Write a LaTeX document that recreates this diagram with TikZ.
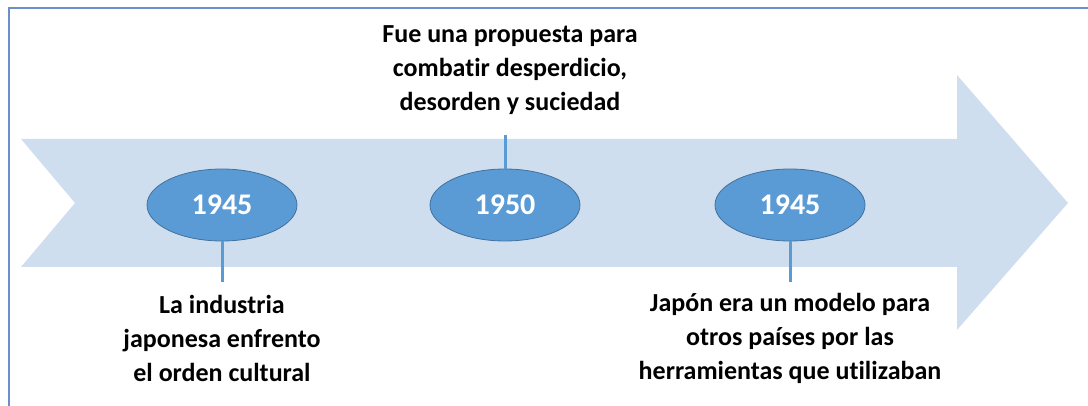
\documentclass[tikz,border=0pt]{standalone}
\usepackage{fontspec}
\setmainfont{Carlito}[Ligatures={NoCommon}]
\usetikzlibrary{shapes.geometric}
\definecolor{arrowfill}{HTML}{CFDEEE}
\definecolor{ellfill}{HTML}{5B9BD5}
\definecolor{elldraw}{HTML}{41719C}
\definecolor{framecol}{HTML}{6A8FCB}
\tikzset{
  yearnode/.style={ellipse, fill=ellfill, draw=elldraw, line width=0.8pt, minimum width=150pt, minimum height=72pt, inner sep=0pt, text=white, font=\bfseries\fontsize{30}{32}\selectfont},
  labelnode/.style={align=center, inner sep=0pt, font=\bfseries\fontsize{26}{34}\selectfont},
  stem/.style={draw=ellfill, line width=3pt}
}
\begin{document}
\begin{tikzpicture}[x=1pt,y=-1pt]
\useasboundingbox (0,0) rectangle (1088,406);
\draw[framecol, line width=1.8pt] (9,420) -- (9,8) -- (1100,8);
\fill[arrowfill] (21,139) -- (957,139) -- (957,75) -- (1068,203) -- (957,330) -- (957,267) -- (21,267) -- (75,203) -- cycle;
\coordinate (c1) at (222,282);
\coordinate (c2) at (505,135);
\coordinate (c3) at (790,282);
\node[yearnode] (e1) at (222,205) {1945};
\node[yearnode] (e2) at (505,205) {1950};
\node[yearnode] (e3) at (790,205) {1945};
\draw[stem] (e1.south) -- (c1);
\draw[stem] (e2.north) -- (c2);
\draw[stem] (e3.south) -- (c3);
\node[labelnode] (t1) at (222,338) {La industria\\japonesa enfrento\\el orden cultural};
\node[labelnode] (t2) at (510,70) {Fue una propuesta para\\combatir desperdicio,\\desorden y suciedad};
\node[labelnode] (t3) at (790,338) {Japón era un modelo para\\otros países por las\\herramientas que utilizaban};
\end{tikzpicture}
\end{document}
